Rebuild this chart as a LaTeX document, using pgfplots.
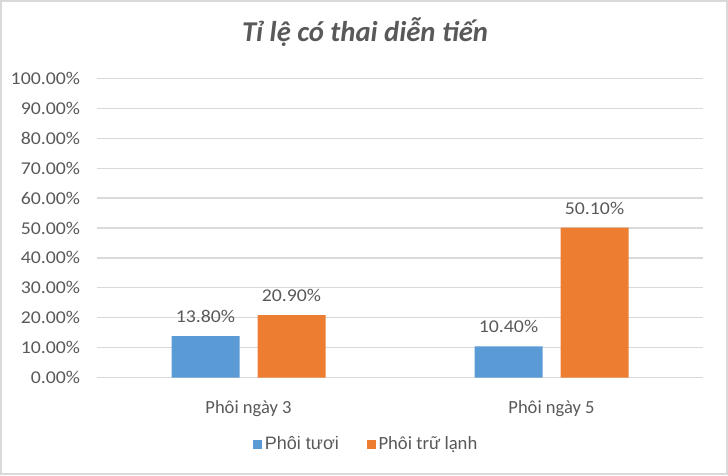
\documentclass[border=0pt]{standalone}
\usepackage{pgfplots}
\pgfplotsset{compat=1.18}
\usepackage{fontspec}
\setmainfont{Carlito}
\newfontfamily\numf{Carlito}[FakeStretch=1.1]
\newfontfamily\arialf{Liberation Sans}
\definecolor{txt}{HTML}{595959}
\definecolor{gridc}{HTML}{D9D9D9}
\definecolor{cblue}{HTML}{5B9BD5}
\definecolor{corange}{HTML}{ED7D31}
\begin{document}
\begin{tikzpicture}
% chart frame, 728x475 px at 0.75pt per px
\draw[gridc, line width=1.2pt] (0.6pt,0.6pt) rectangle (545.4pt,355.65pt);
\node[anchor=base, text=txt, font=\fontsize{21.5}{25}\selectfont\bfseries\itshape]
  at (273.75pt,324.75pt) {Tỉ lệ có thai diễn tiến};
\begin{axis}[
  at={(72.75pt,73.125pt)}, anchor=south west,
  scale only axis, width=454.5pt, height=224.25pt,
  ybar=13.5pt, bar width=51pt,
  xmin=-0.5, xmax=1.5, ymin=0, ymax=100,
  xtick={0,1}, xticklabels={Phôi ngày 3, Phôi ngày 5},
  ytick={0,10,...,100},
  axis line style={draw=none}, tick style={draw=none},
  ymajorgrids, major grid style={gridc, line width=1pt},
  /pgf/number format/assume math mode=true,
  yticklabel={\pgfmathprintnumber[fixed,fixed zerofill,precision=2]{\tick}\%},
  yticklabel style={anchor=east, inner sep=0pt, xshift=-12.5pt, text=txt, font=\numf\fontsize{13.5}{15}\selectfont},
  xticklabel style={anchor=base, inner sep=0pt, yshift=-22.5pt, text=txt, font=\fontsize{13.9}{16}\selectfont},
  nodes near coords={\pgfmathprintnumber[fixed,fixed zerofill,precision=2]{\pgfplotspointmeta}\%},
  every node near coord/.append style={text=txt, font=\numf\fontsize{13.5}{15}\selectfont, anchor=south, yshift=6.5pt},
  legend columns=2,
  legend style={draw=none, fill=none, at={(0.5,0)}, anchor=center,
    xshift=-25pt, yshift=-50pt, text=txt,
    /tikz/every even column/.append style={column sep=19pt}},
  legend image code/.code={\fill[#1] (0pt,-3.4pt) rectangle (6.75pt,3.4pt);},
]
\addplot[fill=cblue, draw=none] coordinates {(0,13.8) (1,10.4)};
\addplot[fill=corange, draw=none] coordinates {(0,20.9) (1,50.1)};
\legend{{\arialf\fontsize{13.5}{16}\selectfont Phôi tươi},{\fontsize{14}{16}\selectfont Phôi trữ lạnh}}
\end{axis}
\end{tikzpicture}
\end{document}
